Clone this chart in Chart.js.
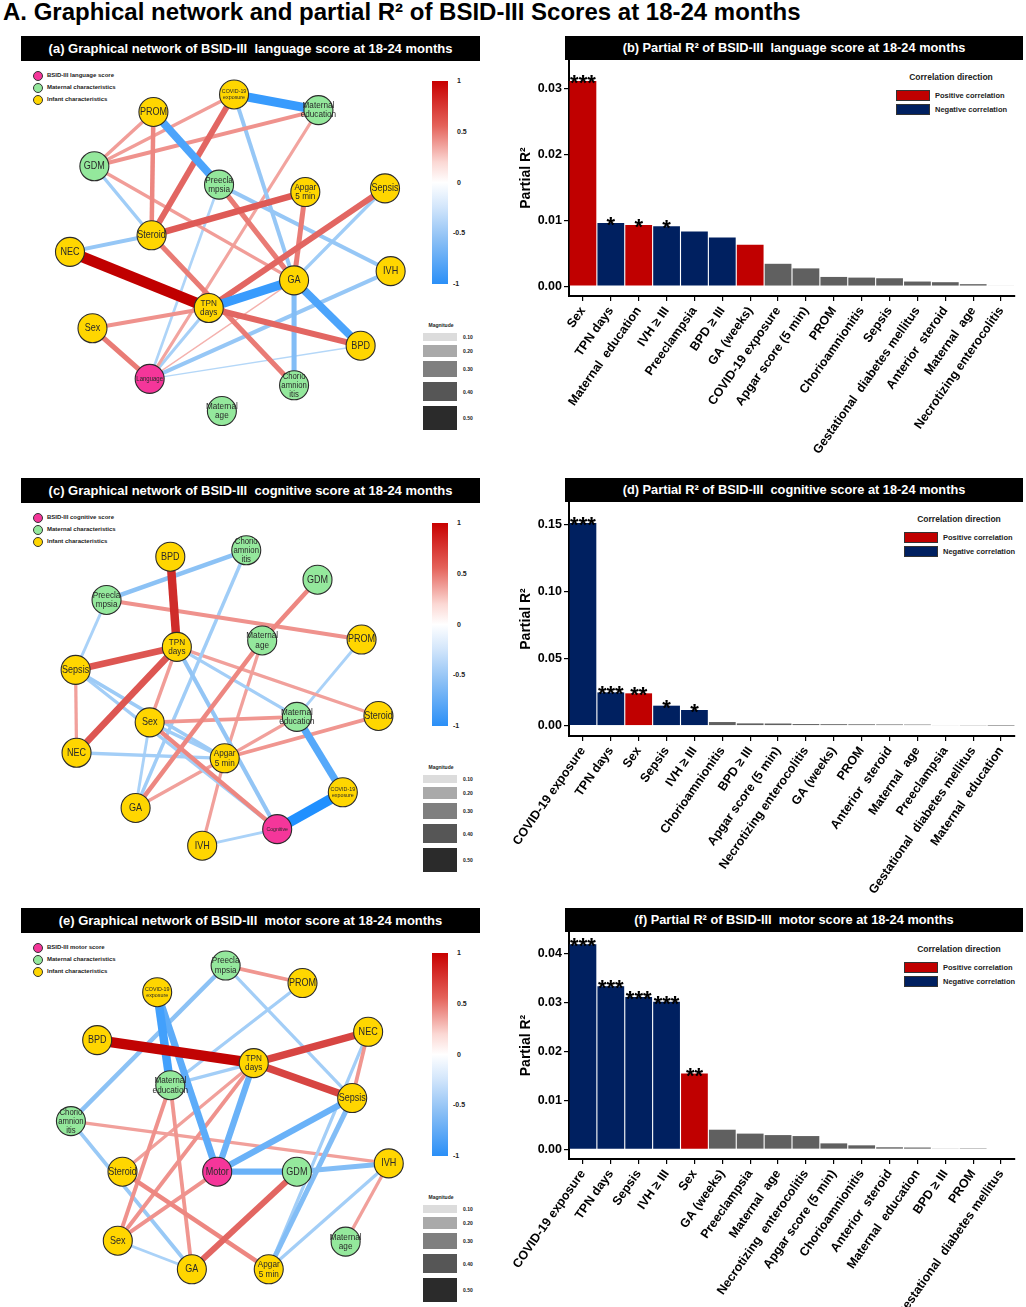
<!DOCTYPE html>
<html>
<head>
<meta charset="utf-8">
<script src="https://cdn.jsdelivr.net/npm/chart.js@4.4.1/dist/chart.umd.min.js"></script>
<style>
  body { margin: 0; background: #fff; }
  #page { position: relative; width: 1026px; height: 1307px; overflow: hidden; font-family: "Liberation Sans", Arial, sans-serif; }
  #page > * { position: absolute; }
  .hdr { background: #000; color: #fff; font-weight: bold; text-align: center; white-space: pre; }
</style>
</head>
<body>
<div id="page"></div>
<script>
// ---- Network data (layout coordinates inside each panel) ----
const langNodes = ['COVID-19 exposure','Maternal education','PROM','GDM','Preeclampsia','Apgar 5 min','Sepsis','Steroid','NEC','IVH','GA','TPN days','Sex','BPD','Language','Chorioamnionitis','Maternal age'];
const langX = [233, 323, 147, 84, 217, 309, 394, 145, 58, 400, 297, 206, 82, 368, 143, 297, 220];
const langY = [45, 62, 64, 123, 143, 151, 147, 198, 216, 237, 247, 277, 299, 318, 354, 361, 389];
const langEdges = [
  ['NEC','TPN days',0.50], ['COVID-19 exposure','Maternal education',-0.39], ['PROM','Preeclampsia',-0.33],
  ['TPN days','GA',-0.39], ['GA','BPD',-0.33], ['COVID-19 exposure','Steroid',0.22], ['Steroid','Apgar 5 min',0.25],
  ['Sepsis','TPN days',0.22], ['TPN days','BPD',0.22], ['Preeclampsia','GA',0.17], ['Apgar 5 min','GA',0.17],
  ['Steroid','Chorioamnionitis',0.17], ['Sex','Language',0.17], ['PROM','Steroid',0.14], ['GDM','PROM',0.08],
  ['GDM','COVID-19 exposure',0.08], ['GDM','Maternal education',0.11], ['GDM','GA',0.08], ['GDM','Steroid',-0.08],
  ['NEC','Steroid',-0.11], ['COVID-19 exposure','GA',-0.11], ['Maternal education','Language',0.06],
  ['Preeclampsia','IVH',-0.11], ['Preeclampsia','Language',-0.04], ['Sepsis','GA',-0.08], ['IVH','Language',-0.11],
  ['GA','Chorioamnionitis',-0.17], ['GA','Language',0.02], ['TPN days','Sex',0.11], ['TPN days','Language',-0.06],
  ['BPD','Language',-0.02]
];

const cogNodes = ['BPD','Chorioamnionitis','GDM','Preeclampsia','Maternal age','PROM','TPN days','Sepsis','Maternal education','Steroid','Sex','NEC','Apgar 5 min','COVID-19 exposure','GA','Cognitive','IVH'];
const cogX = [165, 246, 322, 97, 263, 369, 172, 64, 300, 387, 143, 65, 223, 349, 128, 279, 199];
const cogY = [67, 60, 92, 114, 158, 157, 165, 190, 241, 240, 247, 280, 286, 323, 340, 363, 381];
const cogEdges = [
  ['BPD','TPN days',0.36], ['Sepsis','TPN days',0.26], ['NEC','TPN days',0.26], ['Maternal education','COVID-19 exposure',-0.30],
  ['COVID-19 exposure','Cognitive',-0.46], ['Preeclampsia','Chorioamnionitis',-0.14], ['Preeclampsia','PROM',0.11],
  ['Preeclampsia','Sepsis',-0.05], ['GDM','Maternal age',0.14], ['Maternal age','GA',0.14], ['Chorioamnionitis','GA',-0.08],
  ['TPN days','Sex',0.08], ['TPN days','Maternal education',-0.07], ['TPN days','Steroid',0.07], ['TPN days','Cognitive',-0.12],
  ['Sepsis','NEC',0.07], ['Sepsis','Apgar 5 min',-0.09], ['Sepsis','Cognitive',-0.07], ['Sex','Maternal education',0.10],
  ['Sex','Cognitive',0.14], ['Sex','GA',-0.05], ['Sex','Apgar 5 min',-0.08], ['NEC','Apgar 5 min',-0.07],
  ['Maternal age','Apgar 5 min',0.07], ['Apgar 5 min','IVH',0.07], ['Apgar 5 min','Maternal education',0.07],
  ['Apgar 5 min','Steroid',0.10], ['Apgar 5 min','GA',0.07], ['PROM','Maternal education',-0.05], ['IVH','Cognitive',-0.05]
];

const motNodes = ['Preeclampsia','PROM','COVID-19 exposure','NEC','BPD','TPN days','Maternal education','Sepsis','Chorioamnionitis','IVH','Steroid','Motor','GDM','Sex','Maternal age','GA','Apgar 5 min'];
const motX = [224, 306, 151, 376, 87, 254, 165, 359, 59, 398, 114, 215, 300, 109, 352, 188, 270];
const motY = [44, 63, 73, 116, 125, 150, 174, 188, 213, 259, 268, 268, 268, 343, 344, 374, 374];
const motEdges = [
  ['BPD','TPN days',0.46], ['TPN days','NEC',0.30], ['TPN days','Sepsis',0.30], ['COVID-19 exposure','Maternal education',-0.36],
  ['COVID-19 exposure','Motor',-0.28], ['TPN days','Motor',-0.24], ['Motor','Sepsis',-0.24], ['Motor','GDM',-0.24],
  ['GDM','IVH',-0.17], ['Preeclampsia','PROM',0.10], ['Preeclampsia','Chorioamnionitis',-0.14], ['Preeclampsia','Sepsis',-0.07],
  ['PROM','Maternal education',-0.07], ['TPN days','Maternal education',-0.07], ['NEC','Apgar 5 min',-0.07], ['NEC','Sepsis',0.10],
  ['Sepsis','Apgar 5 min',-0.17], ['Chorioamnionitis','IVH',0.07], ['Chorioamnionitis','GA',-0.10], ['TPN days','Steroid',0.07],
  ['TPN days','Sex',0.11], ['Maternal education','Sex',0.11], ['Maternal education','GA',0.10], ['Steroid','Apgar 5 min',0.14],
  ['Motor','Sex',0.11], ['GDM','GA',0.22], ['Sex','GA',-0.05], ['IVH','Apgar 5 min',-0.07], ['IVH','Maternal age',0.07]
];

const maternalNodes = ['GDM','Preeclampsia','Maternal education','Maternal age','Chorioamnionitis'];
const outcomeNodes = ['Language','Cognitive','Motor'];
const colorbarTicks = [1, 0.5, 0, -0.5, -1];
const magnitudeTicks = [0.10, 0.20, 0.30, 0.40, 0.50];

// ---- Partial R2 data ----
const langCats = ['Sex','TPN days','Maternal  education','IVH \u2265 III','Preeclampsia','BPD \u2265 III','GA (weeks)','COVID-19 exposure','Apgar score (5 min)','PROM','Chorioamnionitis','Sepsis','Gestational  diabetes mellitus','Anterior  steroid','Maternal  age','Necrotizing enterocolitis'];
const langR2 = [0.0312, 0.0096, 0.0093, 0.0091, 0.0083, 0.0074, 0.0063, 0.0034, 0.0027, 0.0014, 0.0013, 0.0012, 0.0007, 0.0006, 0.0003, 0.0001];
const langDir = ['pos','neg','pos','neg','neg','neg','pos','ns','ns','ns','ns','ns','ns','ns','ns','ns'];
const langSig = ['***','*','*','*','','','','','','','','','','','',''];
const langTicks = [0, 0.01, 0.02, 0.03];

const cogCats = ['COVID-19 exposure','TPN days','Sex','Sepsis','IVH \u2265 III','Chorioamnionitis','BPD \u2265 III','Apgar score (5 min)','Necrotizing enterocolitis','GA (weeks)','PROM','Anterior  steroid','Maternal  age','Preeclampsia','Gestational  diabetes mellitus','Maternal  education'];
const cogR2 = [0.151, 0.0248, 0.0241, 0.0149, 0.0117, 0.0027, 0.0017, 0.0016, 0.0012, 0.0011, 0.0010, 0.0009, 0.0008, 0.0004, 0.0003, 0.00005];
const cogDir = ['neg','neg','pos','neg','neg','ns','ns','ns','ns','ns','ns','ns','ns','ns','ns','ns'];
const cogSig = ['***','***','**','*','*','','','','','','','','','','',''];
const cogTicks = [0, 0.05, 0.10, 0.15];

const motCats = ['COVID-19 exposure','TPN days','Sepsis','IVH \u2265 III','Sex','GA (weeks)','Preeclampsia','Maternal  age','Necrotizing  enterocolitis','Apgar score (5 min)','Chorioamnionitis','Anterior  steroid','Maternal  education','BPD \u2265 III','PROM','Gestational  diabetes mellitus'];
const motR2 = [0.0420, 0.0334, 0.0312, 0.0302, 0.0155, 0.0040, 0.0032, 0.0029, 0.0027, 0.0012, 0.0008, 0.0004, 0.00035, 0.00015, 0.00005, 0];
const motDir = ['neg','neg','neg','neg','pos','ns','ns','ns','ns','ns','ns','ns','ns','ns','ns','ns'];
const motSig = ['***','***','***','***','**','','','','','','','','','','',''];
const motTicks = [0, 0.01, 0.02, 0.03, 0.04];

// ---- styling ----
const FONT = '"Liberation Sans", Arial, sans-serif';
const NODE_COLOR = { infant: '#FFD600', maternal: '#94E89C', outcome: '#F5369A' };
const BAR_COLOR = { pos: '#C00000', neg: '#002060', ns: '#606060' };
const NODE_LABEL = {
  'COVID-19 exposure': 'COVID-19\nexposure', 'Maternal education': 'Maternal\neducation', 'Preeclampsia': 'Preecla\nmpsia',
  'Apgar 5 min': 'Apgar\n5 min', 'TPN days': 'TPN\ndays', 'Chorioamnionitis': 'Chorio\namnion\nitis', 'Maternal age': 'Maternal\nage'
};
const LABEL_SIZE = { 'COVID-19 exposure': 6.2, 'Language': 7, 'Cognitive': 6, 'Motor': 10.5 };

const page = document.getElementById('page');
function el(tag, css, text, cls) {
  const e = document.createElement(tag);
  e.style.cssText = css;
  if (cls) e.className = cls;
  if (text !== undefined) e.textContent = text;
  page.appendChild(e);
  return e;
}

function mix(a, b, t) {
  const pa = a.match(/\w\w/g).map(h => parseInt(h, 16));
  const pb = b.match(/\w\w/g).map(h => parseInt(h, 16));
  return 'rgb(' + pa.map((v, i) => Math.round(v + (pb[i] - v) * t)).join(',') + ')';
}
// edge colour follows the colour bar, width follows magnitude
function edgeColor(r) {
  const t = Math.min(1, 0.3 + 1.5 * Math.abs(r));
  const mid = r >= 0 ? 'EE8A84' : '8EC3F5';
  const end = r >= 0 ? 'C00000' : '1E8FFF';
  return t < 0.5 ? mix('FFFFFF', mid, t / 0.5) : mix(mid, end, (t - 0.5) / 0.5);
}
function edgeWidth(r) { return 1 + 18 * Math.abs(r) + (Math.abs(r) > 0.03 ? 1 : 0); }

el('div', `left:3px;top:-1px;font:bold 24px ${FONT};line-height:26px;color:#000;white-space:nowrap;`,
   'A. Graphical network and partial R\u00B2 of BSID-III Scores at 18-24 months');

// Node labels drawn on top of the nodes
const nodeLabelPlugin = {
  id: 'nodeLabels',
  afterDatasetsDraw(chart) {
    const names = chart.data.datasets[0].names;
    const ctx = chart.ctx;
    chart.getDatasetMeta(0).data.forEach((pt, i) => {
      const name = names[i];
      const lines = (NODE_LABEL[name] || name).split('\n');
      const size = LABEL_SIZE[name] || (lines.length > 2 ? 9 : lines.length > 1 ? 9.5 : 10.5);
      const lh = size * 1.0;
      ctx.save();
      ctx.translate(pt.x, pt.y);
      ctx.scale(0.86, 1);
      ctx.font = `${size}px ${FONT}`;
      ctx.fillStyle = '#2a2a2a';
      ctx.textAlign = 'center';
      ctx.textBaseline = 'middle';
      lines.forEach((ln, k) => ctx.fillText(ln, 0, (k - (lines.length - 1) / 2) * lh));
      ctx.restore();
    });
  }
};

function networkPanel(top, letter, score, nodes, xs, ys, edges) {
  el('div', `left:21px;top:${top}px;width:459px;height:25px;line-height:25px;font-size:13px;`,
     `(${letter}) Graphical network of BSID-III  ${score} score at 18-24 months`, 'hdr');

  // node type legend
  const items = [[NODE_COLOR.outcome, `BSID-III ${score} score`], [NODE_COLOR.maternal, 'Maternal characteristics'], [NODE_COLOR.infant, 'Infant characteristics']];
  items.forEach(([c, t], k) => {
    const y = top + 39 + k * 12;
    el('div', `left:33px;top:${y - 4.5}px;width:8px;height:8px;border-radius:50%;background:${c};border:0.8px solid #333;`);
    el('div', `left:47px;top:${y - 5}px;font:bold 6px ${FONT};line-height:10px;color:#222;white-space:nowrap;`, t);
  });

  // colour bar
  const cbTop = top + 45, cbH = 203;
  el('div', `left:432px;top:${cbTop}px;width:16px;height:${cbH}px;background:linear-gradient(to bottom,#C80000 0%,#E4625A 22%,#FBD8D4 40%,#FFFFFF 50%,#D3E6FB 62%,#8CC0F5 78%,#2A8FF7 100%);`);
  colorbarTicks.forEach(v => {
    const y = cbTop + (1 - v) / 2 * cbH;
    el('div', `left:${v < 0 ? 453 : 457}px;top:${y - 5}px;font:bold 7px ${FONT};line-height:10px;color:#222;`, String(v));
  });

  // magnitude legend
  el('div', `left:424px;top:${top + 286}px;width:34px;text-align:center;font:bold 5px ${FONT};line-height:6px;color:#222;`, 'Magnitude');
  const shades = ['#DCDCDC', '#A9A9A9', '#7F7F7F', '#565656', '#2B2B2B'];
  const heights = [8, 12, 16, 19, 24];
  const tops = [297, 309, 325, 346, 370];
  magnitudeTicks.forEach((m, k) => {
    el('div', `left:423px;top:${top + tops[k]}px;width:34px;height:${heights[k]}px;background:${shades[k]};`);
    el('div', `left:463px;top:${top + tops[k] + heights[k] / 2 - 4}px;font:bold 5px ${FONT};line-height:8px;color:#222;`, m.toFixed(2));
  });

  // network itself: nodes + edges on hidden linear scales
  const canvas = el('canvas', `left:0px;top:${top + 18}px;width:500px;height:392px;`);
  canvas.width = 500; canvas.height = 392;
  const idx = {}; nodes.forEach((n, i) => idx[n] = i);
  const types = nodes.map(n => outcomeNodes.includes(n) ? 'outcome' : maternalNodes.includes(n) ? 'maternal' : 'infant');
  const nodeDs = {
    names: nodes,
    data: nodes.map((n, i) => ({ x: xs[i], y: ys[i] })),
    pointRadius: 14.5,
    pointBackgroundColor: types.map(t => NODE_COLOR[t]),
    pointBorderColor: '#2b2b2b',
    pointBorderWidth: 1.1,
    showLine: false,
    clip: false
  };
  const edgeDs = edges.slice().sort((a, b) => Math.abs(b[2]) - Math.abs(a[2])).map(([a, b, r]) => ({
    data: [{ x: xs[idx[a]], y: ys[idx[a]] }, { x: xs[idx[b]], y: ys[idx[b]] }],
    showLine: true,
    borderColor: edgeColor(r),
    borderWidth: edgeWidth(r),
    borderCapStyle: 'butt',
    pointRadius: 0,
    clip: false
  }));
  new Chart(canvas, {
    type: 'scatter',
    data: { datasets: [nodeDs, ...edgeDs] },
    options: {
      responsive: false, animation: false, events: [],
      layout: { padding: 0 },
      plugins: { legend: { display: false }, tooltip: { enabled: false } },
      scales: {
        x: { type: 'linear', min: 0, max: 500, display: false },
        y: { type: 'linear', min: 18, max: 410, reverse: true, display: false }
      }
    },
    plugins: [nodeLabelPlugin]
  });
}

const starPlugin = {
  id: 'stars',
  afterDatasetsDraw(chart) {
    const sigs = chart.data.datasets[0].sig;
    const ctx = chart.ctx;
    ctx.save();
    ctx.font = `bold 22px ${FONT}`;
    ctx.fillStyle = '#000';
    ctx.textAlign = 'center';
    ctx.textBaseline = 'alphabetic';
    chart.getDatasetMeta(0).data.forEach((bar, i) => {
      if (sigs[i]) ctx.fillText(sigs[i], bar.x, bar.y + 9);
    });
    ctx.restore();
  }
};

function barPanel(top, letter, score, cats, vals, dirs, sigs, ticks, yMin, yMax, chartH, canvasH, legendX) {
  el('div', `left:565px;top:${top}px;width:458px;height:24px;line-height:24px;font-size:12.8px;`,
     `(${letter}) Partial R\u00B2 of BSID-III  ${score} score at 18-24 months`, 'hdr');

  // correlation direction legend
  el('div', `left:${legendX - 30}px;top:${top + 36}px;width:170px;text-align:center;font:bold 8.5px ${FONT};line-height:11px;color:#222;`, 'Correlation direction');
  [[BAR_COLOR.pos, 'Positive correlation'], [BAR_COLOR.neg, 'Negative correlation']].forEach(([c, t], k) => {
    const y = top + 54 + k * 14;
    el('div', `left:${legendX}px;top:${y}px;width:32px;height:9px;background:${c};border:1px solid #333;`);
    el('div', `left:${legendX + 39}px;top:${y}px;font:bold 7.5px ${FONT};line-height:11px;color:#222;white-space:nowrap;`, t);
  });

  const canvas = el('canvas', `left:500px;top:${top + 24}px;width:526px;height:${canvasH}px;`);
  canvas.width = 526; canvas.height = canvasH;
  new Chart(canvas, {
    type: 'bar',
    data: {
      labels: cats,
      datasets: [{
        data: vals,
        sig: sigs,
        backgroundColor: dirs.map(d => BAR_COLOR[d]),
        borderWidth: 0,
        categoryPercentage: 1,
        barPercentage: 0.96
      }]
    },
    options: {
      responsive: false, animation: false, events: [],
      layout: { padding: { top: 0, right: 11, left: 0, bottom: 0 } },
      plugins: { legend: { display: false }, tooltip: { enabled: false } },
      scales: {
        x: {
          grid: { display: true, drawOnChartArea: false, drawTicks: true, tickLength: 5, color: '#000', lineWidth: 1.2, offset: false },
          border: { display: true, color: '#000', width: 2 },
          ticks: { autoSkip: false, minRotation: 55, maxRotation: 55, padding: 3, color: '#000', font: { family: FONT, size: 12.5, weight: 'bold' } },
          afterFit(s) { s.height = canvasH - chartH; s.paddingLeft = 0; s.paddingRight = 0; }
        },
        y: {
          min: yMin, max: yMax,
          afterBuildTicks(s) { s.ticks = ticks.map(v => ({ value: v })); },
          grid: { display: true, drawOnChartArea: false, drawTicks: true, tickLength: 5, color: '#000', lineWidth: 1.2 },
          border: { display: true, color: '#000', width: 2 },
          ticks: { padding: 2, color: '#000', font: { family: FONT, size: 12.5, weight: 'bold' }, callback: v => v.toFixed(2) },
          title: { display: true, text: 'Partial R\u00B2', color: '#000', font: { family: FONT, size: 14, weight: 'bold' }, padding: { top: 18, bottom: 0 } },
          afterFit(s) { s.width = 69; s.paddingTop = 0; s.paddingBottom = 0; }
        }
      }
    },
    plugins: [starPlugin]
  });
}

networkPanel(36, 'a', 'language', langNodes, langX, langY, langEdges);
networkPanel(478, 'c', 'cognitive', cogNodes, cogX, cogY, cogEdges);
networkPanel(908, 'e', 'motor', motNodes, motX, motY, motEdges);

barPanel(36, 'b', 'language', langCats, langR2, langDir, langSig, langTicks, -0.0015, 0.0344, 236, 410, 896);
barPanel(478, 'd', 'cognitive', cogCats, cogR2, cogDir, cogSig, cogTicks, -0.0077, 0.1667, 234, 400, 904);
barPanel(908, 'f', 'motor', motCats, motR2, motDir, motSig, motTicks, -0.002, 0.0445, 227, 375, 904);
</script>
</body>
</html>
